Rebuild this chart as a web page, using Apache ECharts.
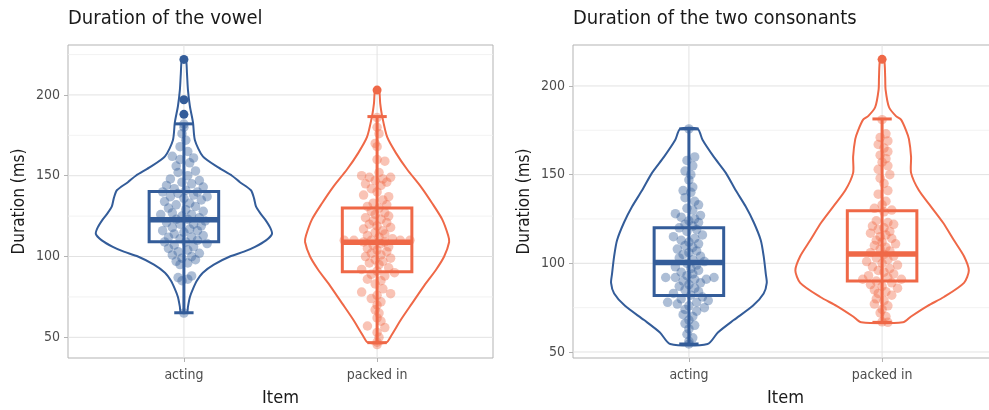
<!DOCTYPE html>
<html><head><meta charset="utf-8">
<script src="https://cdn.jsdelivr.net/npm/echarts@6/dist/echarts.min.js"></script>
<style>html,body{margin:0;padding:0;background:#fff}#c{width:989px;height:410px}</style>
</head><body><div id="c"></div>
<script>
// ---------- DATA ----------
const categories = ['acting', 'packed in'];
const panelTitles = ['Duration of the vowel', 'Duration of the two consonants'];
const xAxisTitle = 'Item';
const yAxisTitle = 'Duration (ms)';
const yMajorTicks = [50, 100, 150, 200];
const yMinorTicks = [75, 125, 175, 225];
const vowelRange = [37.2, 230.9];
const consRange = [46.6, 223.1];

// box stats: [lower whisker, Q1, median, Q3, upper whisker]
const vowelActingBox = [65.2, 109.1, 122.8, 140.3, 182.1];
const vowelPackedBox = [46.7, 90.6, 108.8, 130.1, 186.6];
const consActingBox = [54.5, 81.8, 100.4, 120.1, 175.8];
const consPackedBox = [66.7, 90.0, 105.3, 129.7, 181.4];

const vowelActingOutliers = [188, 197, 222];
const vowelPackedOutliers = [203];
const consActingOutliers = [];
const consPackedOutliers = [215];

// violin outlines: values and half-widths (in category units)
const vowelActingViolinV = [222, 213, 203, 193, 183, 172, 162, 155, 150, 146, 141, 136, 131, 127, 123, 118, 114, 110, 106, 103, 100, 95, 90, 85, 80, 75, 69, 65.2];
const vowelActingViolinW = [0.010, 0.016, 0.021, 0.031, 0.047, 0.057, 0.098, 0.180, 0.249, 0.290, 0.347, 0.363, 0.373, 0.394, 0.420, 0.446, 0.456, 0.425, 0.368, 0.311, 0.238, 0.155, 0.098, 0.067, 0.047, 0.031, 0.021, 0.016];
const vowelPackedViolinV = [203, 195, 187, 174, 164, 154, 143, 133, 123, 113, 109, 100, 92, 82, 71, 61, 51, 46.7];
const vowelPackedViolinW = [0.010, 0.016, 0.026, 0.052, 0.098, 0.155, 0.228, 0.285, 0.337, 0.368, 0.373, 0.347, 0.306, 0.244, 0.181, 0.124, 0.073, 0.047];
const consActingViolinV = [175.8, 169.5, 160, 151, 141, 132, 123, 113, 104, 94, 89, 83, 76, 68, 61, 54.5];
const consActingViolinW = [0.045, 0.071, 0.129, 0.191, 0.243, 0.294, 0.336, 0.372, 0.387, 0.398, 0.403, 0.387, 0.331, 0.232, 0.150, 0.097];
const consPackedViolinV = [215, 205, 198, 188, 183, 181, 175, 170, 160, 151, 141, 132, 123, 113, 104, 96, 89, 81, 76, 70, 66.7];
const consPackedViolinW = [0.010, 0.016, 0.018, 0.036, 0.072, 0.098, 0.124, 0.139, 0.150, 0.150, 0.191, 0.253, 0.315, 0.372, 0.424, 0.449, 0.424, 0.320, 0.236, 0.150, 0.108];

// jittered observations: [duration, horizontal jitter in category units]
const vowelActingPoints = [[182,0],[180,0.0],[176,-0.01],[172,0.01],[168,-0.02],[165,0.02],[162,-0.06],[161,0.05],[160,-0.02],[158,0.03],[156,-0.04],[153,0.06],[152,-0.03],[150,0.02],[148,-0.07],[147,0.08],[146,-0.01],[145,0.04],[144,-0.09],[143,0.1],[142,-0.05],[141,0.01],[140,0.07],[140,-0.11],[139,-0.03],[138,0.05],[137,0.12],[137,-0.07],[136,0.0],[135,0.09],[134,-0.1],[133,0.03],[132,-0.04],[131,0.06],[130,-0.08],[129,0.01],[128,0.1],[127,-0.06],[126,0.04],[126,-0.12],[125,-0.01],[124,0.08],[123,-0.04],[123,0.02],[122,0.11],[121,-0.09],[120,0.05],[120,-0.02],[119,0.09],[118,-0.06],[117,0.03],[116,-0.11],[116,0.07],[115,0.0],[114,-0.05],[113,0.1],[112,-0.08],[112,0.04],[111,-0.02],[110,0.07],[109,-0.1],[109,0.01],[108,0.12],[107,-0.05],[106,0.05],[105,-0.08],[104,0.02],[103,-0.03],[102,0.08],[101,-0.06],[100,0.04],[99,-0.01],[98,0.06],[97,-0.04],[96,0.02],[95,-0.02],[88,0.04],[87,-0.03],[86,0.02],[85,-0.01],[65,0.0]];
const vowelPackedPoints = [[186,0.0],[180,0.0],[176,0.01],[170,-0.01],[168,0.0],[160,0.0],[159,0.04],[152,0.01],[150,-0.08],[149,-0.04],[149,0.07],[148,0.03],[147,-0.01],[146,0.05],[145,-0.06],[144,0.02],[142,-0.03],[140,0.0],[138,-0.07],[137,0.06],[135,0.03],[133,-0.02],[132,0.05],[131,-0.05],[130,0.01],[128,-0.03],[127,0.04],[126,-0.01],[125,0.06],[124,-0.06],[123,0.02],[122,-0.02],[121,0.05],[120,-0.04],[119,0.0],[118,0.07],[117,-0.07],[116,0.03],[115,-0.01],[114,0.04],[113,-0.05],[112,0.01],[111,0.08],[110,-0.17],[110,-0.12],[110,0.12],[110,0.17],[110,-0.03],[109,0.04],[109,-0.07],[108,0.02],[107,-0.02],[106,0.06],[105,-0.05],[104,0.0],[103,0.05],[102,-0.03],[101,0.02],[100,-0.06],[99,0.07],[98,-0.01],[97,0.03],[96,-0.04],[95,0.01],[93,0.06],[92,-0.08],[91,0.0],[90,0.09],[89,-0.03],[88,0.04],[86,-0.05],[85,0.02],[83,-0.01],[80,0.03],[78,-0.08],[77,0.07],[76,0.0],[74,-0.03],[72,0.02],[70,0.0],[67,-0.01],[65,0.01],[62,0.0],[60,0.02],[57,-0.05],[56,0.04],[53,0.0],[50,0.01],[47,0.0],[45.5,0.0]];
const consActingPoints = [[175.8,0.0],[160,0.03],[158,-0.01],[155,0.02],[152,-0.02],[150,0.01],[147,0.0],[143,0.02],[141,-0.03],[140,0.01],[137,-0.02],[135,0.03],[133,0.05],[131,-0.01],[130,0.02],[128,-0.07],[127,0.06],[126,-0.04],[125,0.03],[124,0.0],[123,0.05],[122,-0.02],[121,0.02],[120,-0.05],[119,0.04],[118,-0.01],[116,0.07],[115,-0.08],[114,0.03],[113,-0.04],[112,0.0],[111,0.05],[110,-0.02],[109,0.02],[108,-0.06],[107,0.04],[106,0.0],[105,-0.03],[104,0.06],[103,-0.05],[102,0.02],[101,0.08],[100,-0.01],[99,0.04],[98,-0.07],[97,0.01],[96,0.05],[95,-0.04],[94,0.02],[93,-0.01],[92,-0.12],[92,0.13],[92,-0.07],[91,0.09],[91,0.03],[90,-0.03],[89,0.06],[88,0.0],[87,-0.05],[86,0.03],[85,-0.02],[84,0.05],[83,-0.08],[82,0.01],[81,0.07],[80,-0.04],[79,0.1],[78,-0.11],[78,0.04],[77,-0.06],[76,0.0],[75,0.08],[74,-0.02],[73,0.04],[71,-0.03],[70,0.02],[68,0.0],[66,-0.02],[65,0.03],[63,0.0],[60,-0.01],[58,0.02],[56,0.0],[54.5,0.0]];
const consPackedPoints = [[181,0.0],[173,0.02],[171,-0.01],[169,0.03],[167,-0.02],[165,0.01],[163,0.03],[161,-0.01],[159,0.02],[157,0.0],[155,0.03],[153,-0.02],[150,0.04],[148,-0.01],[145,0.01],[141,0.03],[139,-0.02],[135,0.02],[133,0.0],[131,-0.04],[130,0.05],[129,0.01],[124,-0.03],[123,0.03],[122,0.06],[121,-0.05],[120,0.01],[119,-0.02],[118,0.04],[117,-0.06],[116,0.02],[115,-0.01],[114,0.05],[113,-0.03],[112,0.0],[111,0.07],[110,-0.04],[109,0.02],[108,-0.01],[107,0.04],[106,-0.06],[105,0.01],[104,0.06],[103,-0.03],[102,0.03],[101,-0.08],[100,0.0],[99,0.08],[98,-0.05],[97,0.04],[96,-0.02],[95,0.01],[94,0.06],[93,-0.07],[92,0.03],[91,-0.1],[91,0.1],[90,-0.03],[89,0.05],[88,-0.06],[87,0.0],[86,0.08],[85,-0.04],[84,0.02],[83,-0.02],[82,0.05],[80,-0.03],[79,0.01],[77,-0.04],[76,0.03],[74,0.0],[72,-0.01],[70,0.02],[67,0.0],[66.7,0.03]];

// ---------- STYLE ----------
const COLORS = ['#335c99', '#ef6847'];
const FONT = "'DejaVu Sans Condensed', 'DejaVu Sans', sans-serif";
const X_RANGE = [0.4, 2.6];
const BOX_HALF = 0.18, CAP_HALF = 0.05;

const panels = [
  { range: vowelRange, boxes: [vowelActingBox, vowelPackedBox], outliers: [vowelActingOutliers, vowelPackedOutliers],
    violins: [[vowelActingViolinV, vowelActingViolinW], [vowelPackedViolinV, vowelPackedViolinW]],
    points: [vowelActingPoints, vowelPackedPoints] },
  { range: consRange, boxes: [consActingBox, consPackedBox], outliers: [consActingOutliers, consPackedOutliers],
    violins: [[consActingViolinV, consActingViolinW], [consPackedViolinV, consPackedViolinW]],
    points: [consActingPoints, consPackedPoints] }
];

const grids = [
  { left: 68, right: 496, top: 45, bottom: 52 },
  { left: 573, right: -9, top: 45, bottom: 52 }
];

const option = { animation: false, title: [], grid: [], xAxis: [], yAxis: [], series: [] };

panels.forEach((p, gi) => {
  option.grid.push(Object.assign({ show: true, borderColor: '#b3b3b3', borderWidth: 1, backgroundColor: 'transparent',
    containLabel: false, outerBoundsMode: 'none' }, grids[gi]));
  option.title.push({ text: panelTitles[gi], left: grids[gi].left, top: 9, padding: 0,
    textStyle: { fontFamily: FONT, fontSize: 20, fontWeight: 'normal', color: '#1a1a1a' } });
  option.xAxis.push({
    type: 'value', gridIndex: gi, min: X_RANGE[0], max: X_RANGE[1],
    name: xAxisTitle, nameLocation: 'middle', nameGap: 31,
    nameTextStyle: { fontFamily: FONT, fontSize: 18, color: '#1a1a1a' },
    axisLine: { show: false },
    axisTick: { show: true, length: 4, lineStyle: { color: '#b3b3b3' }, customValues: [1, 2] },
    axisLabel: { fontFamily: FONT, fontSize: 14, color: '#4d4d4d', margin: 10, customValues: [1, 2],
      formatter: v => categories[Math.round(v) - 1] || '' },
    splitLine: { show: false }
  });
  option.yAxis.push({
    type: 'value', gridIndex: gi, min: p.range[0], max: p.range[1],
    name: yAxisTitle, nameLocation: 'middle', nameGap: 40,
    nameTextStyle: { fontFamily: FONT, fontSize: 17, color: '#1a1a1a' },
    axisLine: { show: false },
    axisTick: { show: true, length: 4, lineStyle: { color: '#b3b3b3' }, customValues: yMajorTicks },
    axisLabel: { fontFamily: FONT, fontSize: 14, color: '#4d4d4d', margin: 8, customValues: yMajorTicks },
    splitLine: { show: false }
  });

  const clip = true;
  const hLine = (vals, color, width) => ({
    type: 'custom', xAxisIndex: gi, yAxisIndex: gi, z: 0, silent: true, clip,
    data: vals.filter(v => v > p.range[0] && v < p.range[1]).map(v => [X_RANGE[0], v]),
    renderItem: (params, api) => {
      const a = api.coord([X_RANGE[0], api.value(1)]);
      const b = api.coord([X_RANGE[1], api.value(1)]);
      return { type: 'line', shape: { x1: a[0], y1: a[1], x2: b[0], y2: b[1] }, style: { stroke: color, lineWidth: width } };
    }
  });
  option.series.push(hLine(yMinorTicks, '#efefef', 0.8));
  option.series.push(hLine(yMajorTicks, '#e2e2e2', 1));
  option.series.push({
    type: 'custom', xAxisIndex: gi, yAxisIndex: gi, z: 0, silent: true, clip,
    data: categories.map((c, i) => [i + 1, p.range[0]]),
    renderItem: (params, api) => {
      const a = api.coord([api.value(0), p.range[0]]);
      const b = api.coord([api.value(0), p.range[1]]);
      return { type: 'line', shape: { x1: a[0], y1: a[1], x2: b[0], y2: b[1] }, style: { stroke: '#e2e2e2', lineWidth: 1 } };
    }
  });

  // violins
  option.series.push({
    type: 'custom', xAxisIndex: gi, yAxisIndex: gi, z: 2, silent: true, clip,
    data: categories.map((c, i) => [i + 1, p.violins[i][0][0]]),
    renderItem: (params, api) => {
      const i = params.dataIndex, c = i + 1;
      const V = p.violins[i][0], W = p.violins[i][1];
      const pts = [];
      for (let k = 0; k < V.length; k++) pts.push(api.coord([c - W[k], V[k]]));
      for (let k = V.length - 1; k >= 0; k--) pts.push(api.coord([c + W[k], V[k]]));
      return { type: 'polygon', shape: { points: pts, smooth: 0.25 }, style: { fill: 'none', stroke: COLORS[i], lineWidth: 2 } };
    }
  });

  // jittered points
  categories.forEach((c, i) => {
    option.series.push({
      type: 'scatter', xAxisIndex: gi, yAxisIndex: gi, z: 3, silent: true,
      symbol: 'circle', symbolSize: 9.5,
      itemStyle: { color: COLORS[i], opacity: 0.4 },
      data: p.points[i].map(d => [i + 1 + d[1], d[0]])
    });
  });

  // boxes + whiskers
  option.series.push({
    type: 'custom', xAxisIndex: gi, yAxisIndex: gi, z: 4, silent: true, clip,
    data: categories.map((c, i) => [i + 1].concat(p.boxes[i])),
    renderItem: (params, api) => {
      const i = params.dataIndex, c = api.value(0);
      const lo = api.value(1), q1 = api.value(2), md = api.value(3), q3 = api.value(4), hi = api.value(5);
      const col = COLORS[i];
      const L = (x1, y1, x2, y2, w) => {
        const a = api.coord([x1, y1]), b = api.coord([x2, y2]);
        return { type: 'line', shape: { x1: a[0], y1: a[1], x2: b[0], y2: b[1] }, style: { stroke: col, lineWidth: w } };
      };
      const tl = api.coord([c - BOX_HALF, q3]), br = api.coord([c + BOX_HALF, q1]);
      return { type: 'group', children: [
        L(c, lo, c, hi, 3),
        L(c - CAP_HALF, lo, c + CAP_HALF, lo, 3),
        L(c - CAP_HALF, hi, c + CAP_HALF, hi, 3),
        { type: 'rect', shape: { x: tl[0], y: tl[1], width: br[0] - tl[0], height: br[1] - tl[1] }, style: { fill: 'none', stroke: col, lineWidth: 3 } },
        L(c - BOX_HALF, md, c + BOX_HALF, md, 5.5)
      ] };
    }
  });

  // outliers
  categories.forEach((c, i) => {
    option.series.push({
      type: 'scatter', xAxisIndex: gi, yAxisIndex: gi, z: 5, silent: true,
      symbol: 'circle', symbolSize: 9,
      itemStyle: { color: COLORS[i], opacity: 1 },
      data: p.outliers[i].map(v => [i + 1, v])
    });
  });
});

const chart = echarts.init(document.getElementById('c'), null, { renderer: 'canvas' });
chart.setOption(option);
</script>
</body></html>
